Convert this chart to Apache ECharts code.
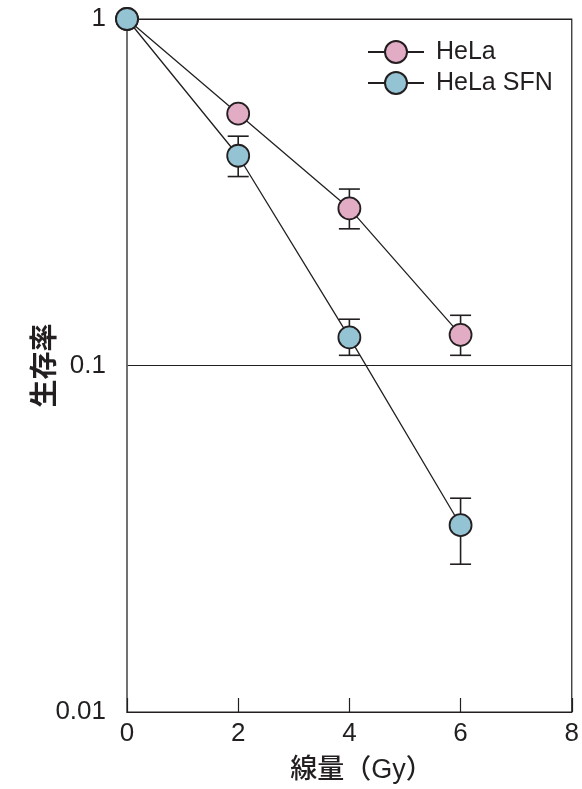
<!DOCTYPE html>
<html><head><meta charset="utf-8">
<script src="https://cdn.jsdelivr.net/npm/echarts@6/dist/echarts.min.js"></script>
<style>html,body{margin:0;padding:0;background:#fff}#c{width:582px;height:789px}</style>
</head><body><div id="c"></div>
<script>
const doses = [0, 2, 4, 6];
const xTicks = [0, 2, 4, 6, 8];
const yTicks = [0.01, 0.1, 1];
const yTickLabels = ['0.01', '0.1', '1'];
const helaMean = [1, 0.533, 0.284, 0.1226];
const helaLow = [null, null, 0.248, 0.107];
const helaHigh = [null, null, 0.323, 0.1396];
const sfnMean = [1, 0.403, 0.1205, 0.0346];
const sfnLow = [null, 0.351, 0.107, 0.0267];
const sfnHigh = [null, 0.459, 0.136, 0.0414];
const names = ['HeLa', 'HeLa SFN'];

const dark = '#231f20';
const font = '"Liberation Sans", Arial, "Noto Sans CJK JP", sans-serif';
const cjk = '"Liberation Sans", "Noto Sans CJK JP", sans-serif';

function pairs(m) { return doses.map((d, i) => [d, m[i]]); }
function errs(lo, hi) {
  const out = [];
  doses.forEach((d, i) => { if (lo[i] != null) out.push([d, lo[i], hi[i]]); });
  return out;
}
function errRender(params, api) {
  const p1 = api.coord([api.value(0), api.value(1)]);
  const p2 = api.coord([api.value(0), api.value(2)]);
  const w = 10.5;
  const st = {stroke: dark, lineWidth: 1.6, fill: null};
  return {type: 'group', children: [
    {type: 'line', shape: {x1: p1[0], y1: p1[1], x2: p2[0], y2: p2[1]}, style: st},
    {type: 'line', shape: {x1: p1[0] - w, y1: p1[1], x2: p1[0] + w, y2: p1[1]}, style: st},
    {type: 'line', shape: {x1: p2[0] - w, y1: p2[1], x2: p2[0] + w, y2: p2[1]}, style: st}
  ]};
}
function yLabel(v) {
  for (let i = 0; i < yTicks.length; i++) {
    if (Math.abs(Math.log10(v) - Math.log10(yTicks[i])) < 1e-6) return yTickLabels[i];
  }
  return '';
}
const chart = echarts.init(document.getElementById('c'), null, {renderer: 'canvas'});
chart.setOption({
  animation: false,
  grid: {left: 127, right: 7, top: 19, bottom: 74, show: true, borderColor: dark, borderWidth: 1.2, backgroundColor: 'transparent'},
  legend: {
    data: names, orient: 'vertical', left: 367, top: 39.5, padding: 0,
    itemWidth: 56, itemHeight: 27.5, itemGap: 6,
    textStyle: {fontFamily: font, fontSize: 25, color: dark, padding: [0, 0, 0, 7]}
  },
  xAxis: {
    type: 'value', min: 0, max: 8, interval: 2,
    name: '線量（Gy）', nameLocation: 'middle', nameGap: 45, nameMoveOverlap: false,
    nameTextStyle: {fontFamily: cjk, fontSize: 27, color: dark, fontWeight: 500, padding: [0, 0, 0, 24]},
    axisLine: {show: true, lineStyle: {color: dark, width: 1.2}},
    axisTick: {show: true, inside: true, length: 14, lineStyle: {color: dark, width: 1.2}},
    axisLabel: {fontFamily: font, fontSize: 26, color: dark, margin: 9,
      formatter: v => xTicks.includes(v) ? String(v) : ''},
    splitLine: {show: false}
  },
  yAxis: {
    type: 'log', logBase: 10, min: 0.01, max: 1,
    name: '生存率', nameLocation: 'middle', nameGap: 67, nameRotate: 90, nameMoveOverlap: false,
    nameTextStyle: {fontFamily: cjk, fontSize: 28, color: dark, fontWeight: 'bold'},
    axisLine: {show: true, lineStyle: {color: '#707070', width: 1.5}},
    axisTick: {show: false},
    axisLabel: {fontFamily: font, fontSize: 26, color: dark, margin: 21, formatter: yLabel},
    splitLine: {show: true, lineStyle: {color: dark, width: 1.2}}
  },
  series: [
    {type: 'custom', name: 'errHeLa', renderItem: errRender, data: errs(helaLow, helaHigh), z: 1, clip: false, silent: true},
    {type: 'custom', name: 'errSFN', renderItem: errRender, data: errs(sfnLow, sfnHigh), z: 1, clip: false, silent: true},
    {type: 'line', name: names[0], data: pairs(helaMean), z: 3, clip: false,
      symbol: 'circle', symbolSize: 22, showAllSymbol: true,
      lineStyle: {color: dark, width: 1.3},
      itemStyle: {color: '#e2acc5', borderColor: dark, borderWidth: 1.8}},
    {type: 'line', name: names[1], data: pairs(sfnMean), z: 4, clip: false,
      symbol: 'circle', symbolSize: 22, showAllSymbol: true,
      lineStyle: {color: dark, width: 1.3},
      itemStyle: {color: '#94c3d3', borderColor: dark, borderWidth: 1.8}}
  ]
});
</script></body></html>
